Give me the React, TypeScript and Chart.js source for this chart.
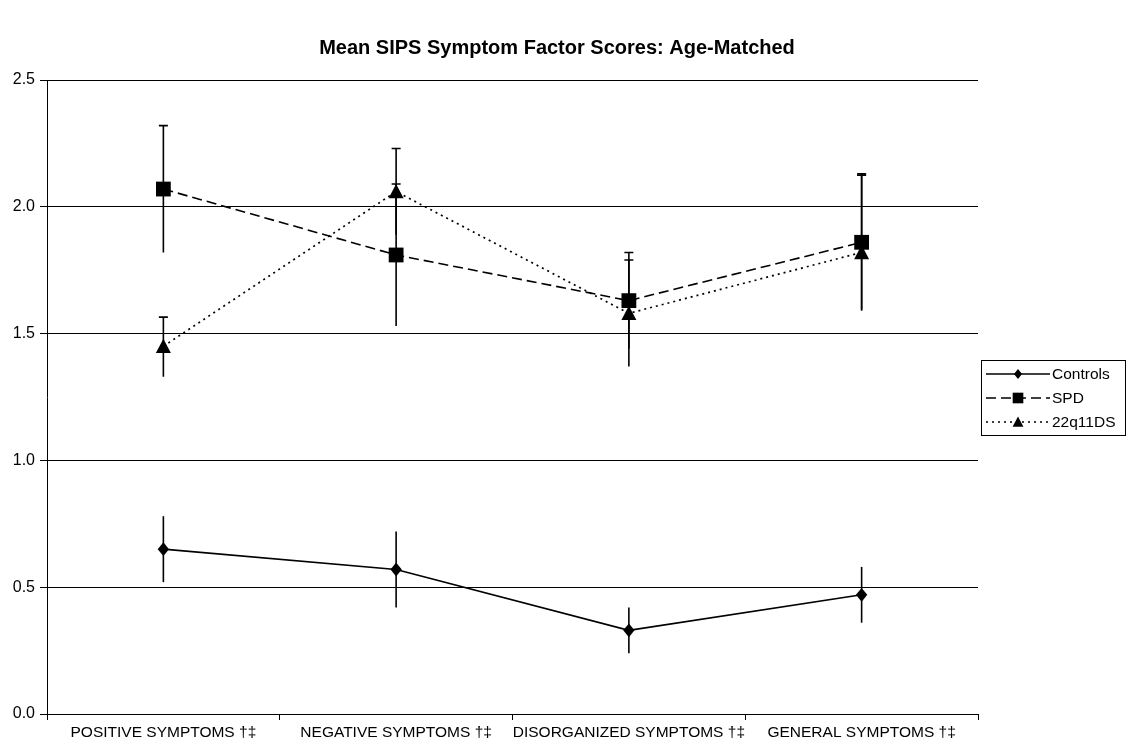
import React, { useEffect, useRef } from 'react';
import { Chart, registerables } from 'chart.js';

Chart.register(...registerables);

const chartTitle = 'Mean SIPS Symptom Factor Scores: Age-Matched';
const categories = [
  'POSITIVE SYMPTOMS †‡',
  'NEGATIVE SYMPTOMS †‡',
  'DISORGANIZED SYMPTOMS †‡',
  'GENERAL SYMPTOMS †‡',
];
const seriesNames = ['Controls', 'SPD', '22q11DS'];

const controlsMeans = [0.65, 0.57, 0.33, 0.47];
const controlsErrPlus = [0.13, 0.15, 0.09, 0.11];
const controlsErrMinus = [0.13, 0.15, 0.09, 0.11];

const spdMeans = [2.07, 1.81, 1.63, 1.86];
const spdErrPlus = [0.25, 0.28, 0.19, 0.265];
const spdErrMinus = [0.25, 0.28, 0.19, 0.265];

const q22Means = [1.45, 2.06, 1.58, 1.82];
const q22ErrPlus = [0.115, 0.17, 0.21, 0.31];
const q22ErrMinus = [0.12, 0.17, 0.21, 0.23];

const yMin = 0;
const yMax = 2.5;
const yStep = 0.5;

const FONT = 'Arial, "Liberation Sans", Helvetica, sans-serif';

function drawMarker(ctx: CanvasRenderingContext2D, style: string, x: number, y: number, s: number) {
  ctx.beginPath();
  if (style === 'diamond') {
    ctx.moveTo(x, y - s * 1.1);
    ctx.lineTo(x + s * 0.9, y);
    ctx.lineTo(x, y + s * 1.1);
    ctx.lineTo(x - s * 0.9, y);
  } else if (style === 'square') {
    ctx.rect(x - s, y - s, 2 * s, 2 * s);
  } else {
    ctx.moveTo(x, y - s);
    ctx.lineTo(x + s, y + s * 0.9);
    ctx.lineTo(x - s, y + s * 0.9);
  }
  ctx.closePath();
  ctx.fill();
}

const titlePlugin = {
  id: 'centeredTitle',
  afterDraw(chart: any) {
    const ctx = chart.ctx as CanvasRenderingContext2D;
    ctx.save();
    ctx.fillStyle = '#000';
    ctx.font = 'bold 20px ' + FONT;
    ctx.textAlign = 'center';
    ctx.textBaseline = 'middle';
    ctx.fillText(chartTitle, 557, 48);
    ctx.restore();
  },
};

const errorBarPlugin = {
  id: 'errorBars',
  beforeDatasetsDraw(chart: any) {
    const ctx = chart.ctx as CanvasRenderingContext2D;
    const yScale = chart.scales.y;
    chart.data.datasets.forEach((ds: any, i: number) => {
      const meta = chart.getDatasetMeta(i);
      meta.data.forEach((pt: any, j: number) => {
        const v = ds.data[j];
        const yTop = yScale.getPixelForValue(v + ds.errPlus[j]);
        const yBot = yScale.getPixelForValue(v - ds.errMinus[j]);
        ctx.save();
        ctx.strokeStyle = '#000';
        ctx.lineWidth = 1.6;
        ctx.setLineDash([]);
        ctx.beginPath();
        ctx.moveTo(pt.x, yTop);
        ctx.lineTo(pt.x, yBot);
        if (ds.topCap) {
          ctx.moveTo(pt.x - 4.5, yTop);
          ctx.lineTo(pt.x + 4.5, yTop);
        }
        ctx.stroke();
        ctx.restore();
      });
    });
  },
};

const customMarkerPlugin = {
  id: 'customMarkers',
  afterDatasetsDraw(chart: any) {
    const ctx = chart.ctx as CanvasRenderingContext2D;
    chart.data.datasets.forEach((ds: any, i: number) => {
      const meta = chart.getDatasetMeta(i);
      ctx.save();
      ctx.fillStyle = '#000';
      meta.data.forEach((pt: any) => {
        drawMarker(ctx, ds.markerStyle, pt.x, pt.y, ds.markerSize);
      });
      ctx.restore();
    });
  },
};

const boxLegendPlugin = {
  id: 'boxLegend',
  afterDraw(chart: any) {
    const ctx = chart.ctx as CanvasRenderingContext2D;
    const left = 981;
    const top = 360;
    const w = 144;
    const rowH = 24;
    const h = rowH * chart.data.datasets.length + 3;
    ctx.save();
    ctx.fillStyle = '#fff';
    ctx.fillRect(left, top, w, h);
    ctx.strokeStyle = '#000';
    ctx.lineWidth = 1;
    ctx.strokeRect(left + 0.5, top + 0.5, w, h);
    chart.data.datasets.forEach((ds: any, i: number) => {
      const cy = top + 14 + i * rowH;
      ctx.strokeStyle = '#000';
      ctx.lineWidth = 1.5;
      ctx.setLineDash(ds.borderDash || []);
      ctx.beginPath();
      ctx.moveTo(left + 5, cy);
      ctx.lineTo(left + 69, cy);
      ctx.stroke();
      ctx.setLineDash([]);
      ctx.fillStyle = '#000';
      drawMarker(ctx, ds.markerStyle, left + 37, cy, ds.markerSize * 0.72);
      ctx.font = '15.5px ' + FONT;
      ctx.textBaseline = 'middle';
      ctx.textAlign = 'left';
      ctx.fillText(ds.label, left + 71, cy + 1);
    });
    ctx.restore();
  },
};

export default function App() {
  const canvasRef = useRef<HTMLCanvasElement | null>(null);

  useEffect(() => {
    if (!canvasRef.current) return;
    const chart = new Chart(canvasRef.current, {
      type: 'line',
      data: {
        labels: categories,
        datasets: [
          {
            label: seriesNames[0],
            data: controlsMeans,
            errPlus: controlsErrPlus,
            errMinus: controlsErrMinus,
            topCap: false,
            markerStyle: 'diamond',
            markerSize: 6.3,
            borderColor: '#000',
            borderWidth: 1.6,
            borderDash: [],
            pointRadius: 0,
            fill: false,
            tension: 0,
          } as any,
          {
            label: seriesNames[1],
            data: spdMeans,
            errPlus: spdErrPlus,
            errMinus: spdErrMinus,
            topCap: true,
            markerStyle: 'square',
            markerSize: 7.4,
            borderColor: '#000',
            borderWidth: 1.6,
            borderDash: [10, 5],
            pointRadius: 0,
            fill: false,
            tension: 0,
          } as any,
          {
            label: seriesNames[2],
            data: q22Means,
            errPlus: q22ErrPlus,
            errMinus: q22ErrMinus,
            topCap: true,
            markerStyle: 'triangle',
            markerSize: 7.5,
            borderColor: '#000',
            borderWidth: 1.7,
            borderDash: [2, 4],
            pointRadius: 0,
            fill: false,
            tension: 0,
          } as any,
        ],
      },
      options: {
        animation: false,
        responsive: false,
        maintainAspectRatio: false,
        layout: { padding: { left: 0, right: 152, top: 80, bottom: 0 } },
        plugins: {
          legend: { display: false },
          tooltip: { enabled: false },
          title: { display: false },
        },
        scales: {
          x: {
            type: 'category',
            offset: true,
            afterFit: (scale: any) => {
              scale.height = 30;
            },
            grid: {
              display: true,
              offset: true,
              drawOnChartArea: false,
              drawTicks: true,
              tickLength: 6,
              color: '#000',
              lineWidth: 1,
            },
            border: { display: true, color: '#000', width: 1 },
            ticks: {
              color: '#000',
              font: { family: FONT, size: 15.5 },
              maxRotation: 0,
              autoSkip: false,
              padding: 3,
            },
          },
          y: {
            min: yMin,
            max: yMax,
            afterFit: (scale: any) => {
              scale.width = 47;
            },
            grid: {
              color: '#000',
              lineWidth: 1,
              drawTicks: true,
              tickLength: 7,
            },
            border: { display: true, color: '#000', width: 1 },
            ticks: {
              stepSize: yStep,
              color: '#000',
              font: { family: FONT, size: 16 },
              padding: 5,
              callback: (v: any) => Number(v).toFixed(1),
            },
          },
        },
      } as any,
      plugins: [errorBarPlugin, customMarkerPlugin, titlePlugin, boxLegendPlugin],
    });
    return () => chart.destroy();
  }, []);

  return (
    <div style={{ position: 'absolute', left: 0, top: 0, width: 1130, height: 744, background: '#fff' }}>
      <canvas ref={canvasRef} width={1130} height={744} style={{ display: 'block', width: 1130, height: 744 }} />
    </div>
  );
}
